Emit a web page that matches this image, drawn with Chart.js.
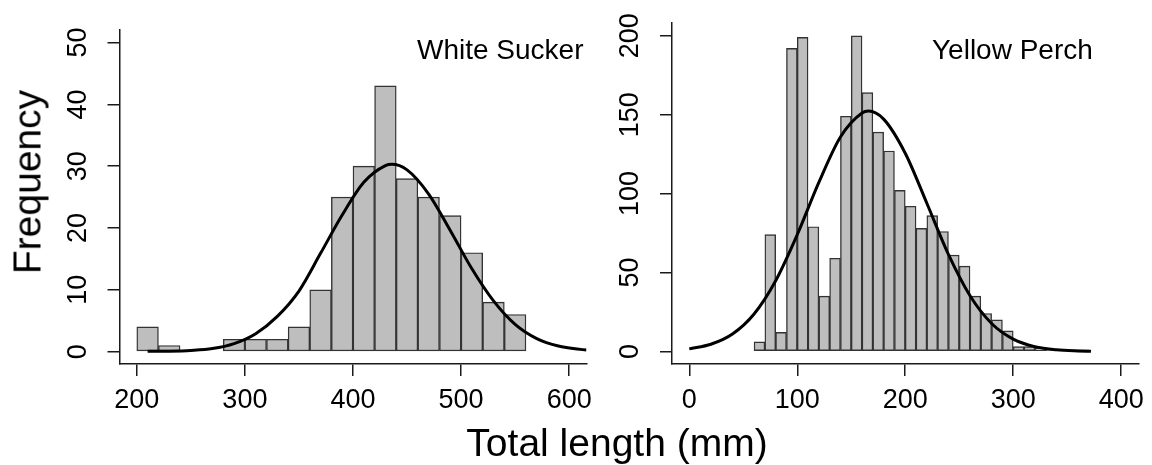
<!DOCTYPE html>
<html><head><meta charset="utf-8">
<script src="https://cdn.jsdelivr.net/npm/chart.js@4/dist/chart.umd.min.js"></script>
<style>
html,body{margin:0;padding:0;background:#fff;width:1152px;height:465px;overflow:hidden;font-family:"Liberation Sans",Arial,sans-serif;}
.cv{position:absolute;top:0;width:600px;height:465px;}
.txt{position:absolute;white-space:nowrap;line-height:1;color:#000;font-family:"Liberation Sans",Arial,sans-serif;}
</style></head><body>
<div class="cv" style="left:0"><canvas id="c1" width="600" height="465"></canvas></div>
<div class="cv" style="left:552px"><canvas id="c2" width="600" height="465"></canvas></div>
<div class="txt" style="left:27px;top:182px;font-size:39px;transform:translate(-50%,-50%) rotate(-90deg)">Frequency</div>
<div class="txt" style="left:617px;top:423px;font-size:39px;transform:translateX(-50%)">Total length (mm)</div>
<div class="txt" style="left:417px;top:36px;font-size:28px">White Sucker</div>
<div class="txt" style="left:932px;top:36px;font-size:28px">Yellow Perch</div>
<script>
// ---------- White Sucker ----------
const wsBinWidth = 20;
const wsBinStarts = [200,220,240,260,280,300,320,340,360,380,400,420,440,460,480,500,520,540];
const wsCounts    = [4,1,0,0,2,2,2,4,10,25,30,43,28,25,22,16,8,6];
const wsCurveX = [210,230,250,270,290,310,330,350,370,390,410,430,436,450,470,490,510,530,550,570,590,616];
const wsCurveY = [0.05,0.08,0.2,0.5,1.3,2.9,5.7,9.8,15.9,22.1,27.4,30.1,30.3,29.4,25.5,19.6,13.4,8.2,4.4,2.1,0.9,0.25];
const wsTicksX = [200,300,400,500,600];
const wsTicksY = [0,10,20,30,40,50];
const wsRangeX = [184,616];
const wsRangeY = [-2,52];

// ---------- Yellow Perch ----------
const ypBinWidth = 10;
const ypBinStarts = [60,70,80,90,100,110,120,130,140,150,160,170,180,190,200,210,220,230,240,250,260,270,280,290,300,310,320,330,340,350,360];
const ypCounts    = [6,74,12,192,199,79,35,59,149,200,164,139,127,102,92,78,86,76,61,54,35,24,20,13,3,3,2,1,1,1,1];
const ypCurveX = [0,20,40,60,80,100,120,140,160,166,180,200,220,240,260,280,300,320,340,360,372];
const ypCurveY = [1.6,4.5,11.0,23.7,44.8,74.0,107.1,135.9,151.1,152.3,147.2,125.6,93.9,61.5,35.3,17.7,7.8,3.0,1.0,0.3,0.1];
const ypTicksX = [0,100,200,300,400];
const ypTicksY = [0,50,100,150,200];
const ypRangeX = [-16,416];
const ypRangeY = [-8,208];

const FONT = 'Liberation Sans';
const AXC = '#1a1a1a';

function panel(id, starts, bw, counts, cx, cy, tx, ty, rx, ry, pad, yPad) {
  const bars = starts.map((s, i) => ({x: s + bw / 2, y: counts[i]}));
  const curve = cx.map((x, i) => ({x: x, y: cy[i]}));
  return new Chart(document.getElementById(id), {
    type: 'bar',
    data: {datasets: [
      {type: 'line', data: curve, borderColor: '#000', borderWidth: 3, pointRadius: 0,
       cubicInterpolationMode: 'monotone', fill: false, order: 0},
      {type: 'bar', data: bars, backgroundColor: '#BEBEBE', borderColor: '#333333', borderWidth: 1.4,
       borderSkipped: false, barPercentage: 1, categoryPercentage: 1, order: 1}
    ]},
    options: {
      responsive: false, animation: false, devicePixelRatio: 1,
      layout: {padding: pad},
      plugins: {legend: {display: false}, tooltip: {enabled: false}},
      scales: {
        x: {type: 'linear', min: rx[0], max: rx[1], offset: false,
            afterBuildTicks: s => { s.ticks = tx.map(v => ({value: v})); },
            afterFit: s => { s.height = 60; },
            grid: {display: true, offset: false, drawOnChartArea: false, drawTicks: true, tickLength: 12, color: AXC, lineWidth: 1.5},
            border: {display: true, color: AXC, width: 1.5},
            ticks: {font: {family: FONT, size: 27}, color: '#000', padding: 8, maxRotation: 0, minRotation: 0, autoSkip: false}},
        y: {type: 'linear', min: ry[0], max: ry[1],
            afterBuildTicks: s => { s.ticks = ty.map(v => ({value: v})); },
            afterFit: s => { s.width = 100; },
            grid: {display: true, offset: false, drawOnChartArea: false, drawTicks: true, tickLength: 12, color: AXC, lineWidth: 1.5},
            border: {display: true, color: AXC, width: 1.5},
            ticks: {font: {family: FONT, size: 27}, color: '#000', padding: yPad, minRotation: 90, maxRotation: 90,
                    crossAlign: 'center', autoSkip: false}}
      }
    }
  });
}

panel('c1', wsBinStarts, wsBinWidth, wsCounts, wsCurveX, wsCurveY, wsTicksX, wsTicksY, wsRangeX, wsRangeY,
      {left: 19.5, right: 8, top: 19.5, bottom: 41}, 14);
panel('c2', ypBinStarts, ypBinWidth, ypCounts, ypCurveX, ypCurveY, ypTicksX, ypTicksY, ypRangeX, ypRangeY,
      {left: 20, right: 7.5, top: 19.5, bottom: 41}, 7);
</script>
</body></html>
